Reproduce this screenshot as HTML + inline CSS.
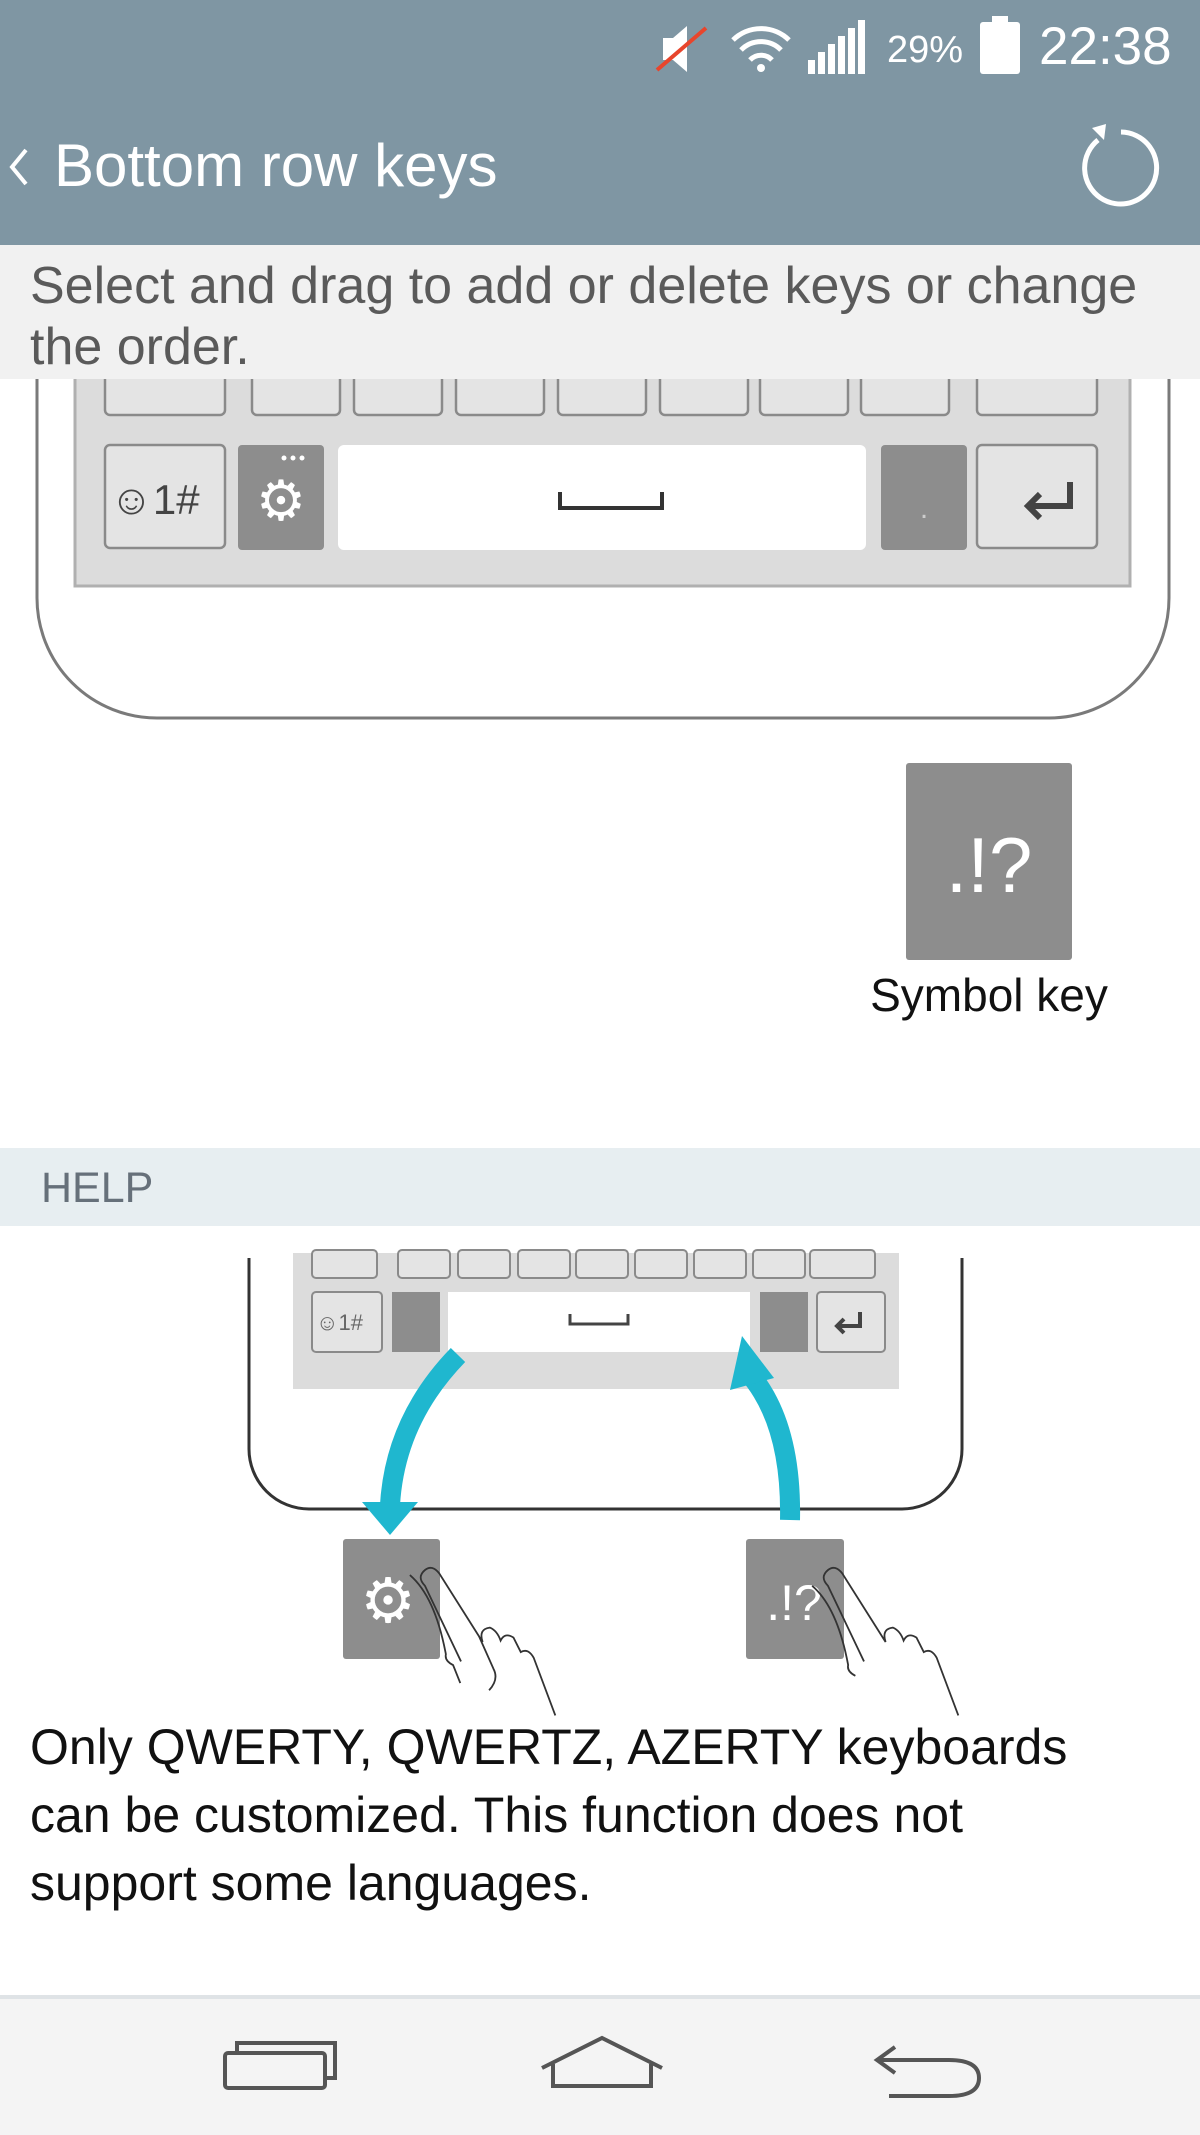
<!DOCTYPE html>
<html><head><meta charset="utf-8"><style>
html,body{margin:0;padding:0;background:#fff}
svg{display:block}
text{font-family:"Liberation Sans",sans-serif}
</style></head><body>
<svg width="1200" height="2135" viewBox="0 0 1200 2135" xmlns="http://www.w3.org/2000/svg">
<path d="M37 379 V598 a120 120 0 0 0 120 120 H1049 a120 120 0 0 0 120 -120 V379" fill="none" stroke="#7a7a7a" stroke-width="3"/>
<rect x="75" y="370" width="1055" height="216" fill="#dcdcdc" stroke="#b0b0b0" stroke-width="3"/>
<g fill="#e4e4e4" stroke="#8a8a8a" stroke-width="2.5">
  <rect x="105" y="365" width="120" height="50" rx="5"/><rect x="252" y="365" width="88" height="50" rx="5"/>
  <rect x="354" y="365" width="88" height="50" rx="5"/><rect x="456" y="365" width="88" height="50" rx="5"/>
  <rect x="558" y="365" width="88" height="50" rx="5"/><rect x="660" y="365" width="88" height="50" rx="5"/>
  <rect x="760" y="365" width="88" height="50" rx="5"/><rect x="861" y="365" width="88" height="50" rx="5"/>
  <rect x="977" y="365" width="120" height="50" rx="5"/>
  <rect x="105" y="445" width="120" height="103" rx="5"/>
  <rect x="977" y="445" width="120" height="103" rx="5"/>
</g>
<rect x="238" y="445" width="86" height="105" rx="4" fill="#8d8d8d"/>
<rect x="338" y="445" width="528" height="105" rx="6" fill="#fff"/>
<rect x="881" y="445" width="86" height="105" rx="4" fill="#8d8d8d"/>
<text x="110" y="514" font-size="42" fill="#444">☺1#</text>
<text x="281" y="520" font-size="56" fill="#fff" text-anchor="middle">⚙</text>
<g fill="#fff"><circle cx="284" cy="458" r="2.5"/><circle cx="293" cy="458" r="2.5"/><circle cx="302" cy="458" r="2.5"/></g>
<path d="M560 492 v16 h102 v-16" fill="none" stroke="#333" stroke-width="4"/>
<text x="924" y="518" font-size="30" fill="#ccc" text-anchor="middle">.</text>
<path d="M1070 482 v24 h-40 m10 -12 l-12 12 l12 12" fill="none" stroke="#444" stroke-width="6"/>

<rect x="0" y="0" width="1200" height="245" fill="#7f96a3"/>
<g fill="#fff" stroke="none">
  <path d="M663 38 h10 l14 -12 v46 l-14 -12 h-10z"/>
  <line x1="657" y1="70" x2="706" y2="28" stroke="#e8452c" stroke-width="4"/>
  <path d="M733 40 a40 40 0 0 1 56 0" fill="none" stroke="#fff" stroke-width="5"/>
  <path d="M741 50 a28 28 0 0 1 40 0" fill="none" stroke="#fff" stroke-width="5"/>
  <path d="M750 60 a15 15 0 0 1 22 0" fill="none" stroke="#fff" stroke-width="5"/>
  <circle cx="761" cy="68" r="4"/>
  <rect x="808" y="60" width="7" height="14"/><rect x="818" y="52" width="7" height="22"/>
  <rect x="828" y="44" width="7" height="30"/><rect x="838" y="36" width="7" height="38"/>
  <rect x="848" y="28" width="7" height="46"/><rect x="858" y="20" width="7" height="54"/>
  <text x="887" y="62" font-size="38" fill="#fff">29%</text>
  <rect x="980" y="22" width="40" height="52" rx="3"/>
  <rect x="992" y="16" width="16" height="8"/>
  <text x="1039" y="64" font-size="53" fill="#fff">22:38</text>
</g>
<path d="M26 150 l-14 17 l14 17" fill="none" stroke="#fff" stroke-width="4"/>
<text x="54" y="186" font-size="60" fill="#fff">Bottom row keys</text>
<path d="M1098 140 a36 36 0 1 0 23 -8" fill="none" stroke="#fff" stroke-width="5"/>
<path d="M1092 128 l14 -4 l-2 16z" fill="#fff"/>
<rect x="0" y="245" width="1200" height="134" fill="#f1f1f1"/>
<text x="30" y="303" font-size="52" fill="#5a5a5a">Select and drag to add or delete keys or change</text>
<text x="30" y="364" font-size="52" fill="#5a5a5a">the order.</text>

<rect x="906" y="763" width="166" height="197" rx="3" fill="#8d8d8d"/>
<text x="989" y="892" font-size="78" fill="#fff" text-anchor="middle">.!?</text>
<text x="989" y="1011" font-size="46" fill="#111" text-anchor="middle">Symbol key</text>
<rect x="0" y="1148" width="1200" height="78" fill="#e7eef1"/>
<text x="41" y="1202" font-size="43" fill="#66707a">HELP</text>
<path d="M249 1258 V1449 a60 60 0 0 0 60 60 H902 a60 60 0 0 0 60 -60 V1258" fill="none" stroke="#333" stroke-width="3"/>
<rect x="293" y="1253" width="606" height="136" fill="#dcdcdc"/>
<g fill="#e4e4e4" stroke="#8a8a8a" stroke-width="2">
  <rect x="312" y="1250" width="65" height="28" rx="4"/><rect x="398" y="1250" width="52" height="28" rx="4"/>
  <rect x="458" y="1250" width="52" height="28" rx="4"/><rect x="518" y="1250" width="52" height="28" rx="4"/>
  <rect x="576" y="1250" width="52" height="28" rx="4"/><rect x="635" y="1250" width="52" height="28" rx="4"/>
  <rect x="694" y="1250" width="52" height="28" rx="4"/><rect x="753" y="1250" width="52" height="28" rx="4"/>
  <rect x="810" y="1250" width="65" height="28" rx="4"/>
  <rect x="312" y="1292" width="70" height="60" rx="4"/><rect x="817" y="1292" width="68" height="60" rx="4"/>
</g>
<rect x="392" y="1292" width="48" height="60" fill="#8d8d8d"/>
<rect x="448" y="1292" width="302" height="60" fill="#fff"/>
<rect x="760" y="1292" width="48" height="60" fill="#8d8d8d"/>
<text x="316" y="1330" font-size="22" fill="#666">☺1#</text>
<path d="M570 1314 v10 h58 v-10" fill="none" stroke="#444" stroke-width="3"/>
<path d="M860 1312 v14 h-22 m6 -7 l-7 7 l7 7" fill="none" stroke="#444" stroke-width="4"/>
<path d="M458 1355 Q395 1420 390 1505" fill="none" stroke="#1fb7cf" stroke-width="20"/>
<path d="M362 1502 L418 1502 L390 1535z" fill="#1fb7cf"/>
<path d="M790 1520 Q792 1420 746 1370" fill="none" stroke="#1fb7cf" stroke-width="20"/>
<path d="M730 1390 L742 1336 L774 1378z" fill="#1fb7cf"/>
<rect x="343" y="1539" width="97" height="120" rx="3" fill="#8d8d8d"/>
<text x="388" y="1622" font-size="62" fill="#fff" text-anchor="middle">⚙</text>
<rect x="746" y="1539" width="98" height="120" rx="3" fill="#8d8d8d"/>
<text x="794" y="1620" font-size="50" fill="#fff" text-anchor="middle">.!?</text>
<g fill="none" stroke="#333" stroke-width="2.5">
  <g transform="translate(425 1570) scale(0.72) translate(-425 -1570)">
  <path d="M425 1570 q-12 10 0 22 l50 105 m25 -35 l20 45 q8 15 -6 30 m-40 -10 l-10 -25 q-12 -6 -10 -15 q-15 -80 -50 -110 M425 1570 q10 -8 20 5 l60 95 q-6 -18 10 -20 q10 4 15 18 q6 -12 18 -4 l10 20 q10 -6 18 8 q15 40 30 80"/>
  </g>
  <g transform="translate(828 1570) scale(0.72) translate(-828 -1570)">
  <path d="M828 1570 q-12 10 0 22 l50 105 m-12 20 q-12 -6 -10 -15 q-15 -80 -50 -110 M828 1570 q10 -8 20 5 l60 95 q-6 -18 10 -20 q10 4 15 18 q6 -12 18 -4 l10 20 q10 -6 18 8 q15 40 30 80"/>
  </g>
</g>
<text x="30" y="1764" font-size="50" fill="#111">Only QWERTY, QWERTZ, AZERTY keyboards</text>
<text x="30" y="1832" font-size="50" fill="#111">can be customized. This function does not</text>
<text x="30" y="1900" font-size="50" fill="#111">support some languages.</text>
<rect x="0" y="1997" width="1200" height="138" fill="#f4f4f4"/>
<rect x="0" y="1995" width="1200" height="4" fill="#dfe3e6"/>
<g fill="none" stroke="#555" stroke-width="4">
  <rect x="225" y="2053" width="100" height="35" rx="3"/>
  <path d="M237 2053 v-10 h98 v35 h-10"/>
  <path d="M542 2068 l60 -30 l60 30 M553 2064 v22 h98 v-22"/>
  <path d="M895 2047 l-18 13 l18 13 M877 2060 h72 q30 0 30 18 q0 18 -30 18 h-60"/>
</g>
</svg>
</body></html>
